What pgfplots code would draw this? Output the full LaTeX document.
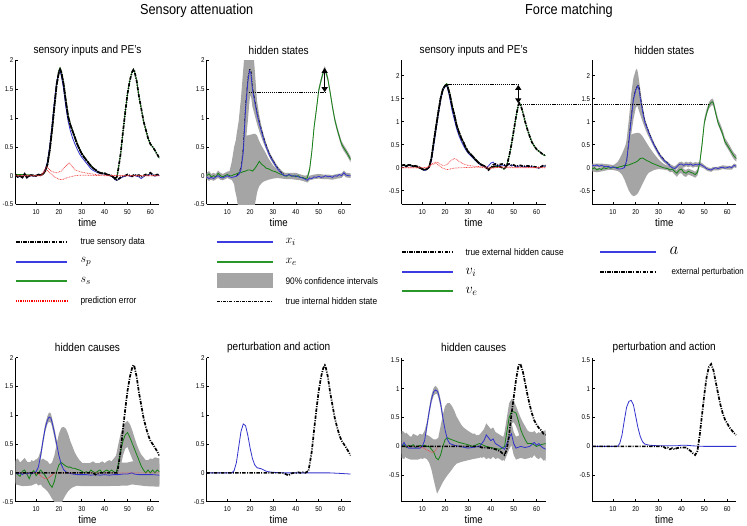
\documentclass[border=0pt]{standalone}
\usepackage{fontspec}
\setmainfont{Liberation Sans}[FakeStretch=0.88]
\usepackage{pgfplots}
\pgfplotsset{compat=1.18}
\usetikzlibrary{arrows.meta}
\definecolor{mblue}{RGB}{50,50,205}
\definecolor{mgreen}{RGB}{20,130,20}
\definecolor{mred}{RGB}{240,60,60}
\definecolor{mgray}{RGB}{165,165,165}
\definecolor{lblue}{RGB}{60,60,225}
\definecolor{lgreen}{RGB}{40,150,40}
\tikzset{
 truedd/.style={black, line width=1.7bp, dash pattern=on 3.5bp off 1.3bp on 1bp off 1.3bp},
 truedd2/.style={black, line width=1.7bp, dash pattern=on 3.5bp off 1.3bp on 1bp off 1.3bp, dash phase=3bp},
 thindd/.style={black, line width=0.5bp, dash pattern=on 3bp off 1.2bp on 0.8bp off 1.2bp},
 blu/.style={mblue, line width=0.8bp},
 grn/.style={mgreen, line width=0.8bp},
 pe/.style={mred, line width=0.7bp, dash pattern=on 0.8bp off 0.8bp},
 band/.style={fill=mgray, draw=none},
 dotl/.style={black, line width=1bp, dash pattern=on 1.2bp off 0.9bp},
 arr/.style={line width=1.4bp, {Triangle[length=5bp,width=6bp]}-{Triangle[length=5bp,width=6bp]}},
 legb/.style={draw=lblue, line width=1.3bp},
 legg/.style={draw=lgreen, line width=1.3bp},
}
\pgfplotsset{
 panel/.style={
  scale only axis, width=144bp, height=144bp,
  xmin=1, xmax=64, no markers,
  axis x line*=bottom, axis y line*=left,
  axis line style={line width=0.7bp, black},
  xtick={10,20,...,60},
  tick align=inside, major tick length=2.5bp,
  tick style={line width=0.6bp, black},
  ticklabel style={font=\fontsize{7}{8}\selectfont},
  /pgf/number format/assume math mode=true,
  xticklabel style={yshift=-1.5bp},
  yticklabel style={xshift=-0.5bp, inner sep=1.5bp},
  xlabel={time},
  xlabel style={font=\fontsize{11}{12}\selectfont, at={(axis description cs:0.5,0)}, anchor=center, yshift=-18bp},
  title style={font=\fontsize{11.5}{13}\selectfont, at={(axis description cs:0.5,1)}, anchor=center, yshift=4bp},
 },
 rowA/.style={panel, ymin=-0.5, ymax=2, ytick={-0.5,0,0.5,1,1.5,2}},
 rowC/.style={panel, ymin=-0.8, ymax=2.33, ytick={-0.5,0,0.5,1,1.5,2}},
 rowG/.style={panel, ymin=-0.96, ymax=1.54, ytick={-0.5,0,0.5,1,1.5}},
}
\begin{document}
\begin{tikzpicture}[x=1bp,y=1bp]
\useasboundingbox (0,0) rectangle (747,526);

% ================= legends (sample lines first)
\draw[black, line width=1.1bp, dash pattern=on 3.5bp off 1.3bp on 1bp off 1.3bp] (16,284) -- (67,284);
\draw[legb] (16,264) -- (67,264);
\draw[legg] (16,245) -- (67,245);
\draw[draw=red, line width=1.1bp, dash pattern=on 1.1bp off 1.1bp] (16,225) -- (67,225);
\draw[legb] (217,284) -- (272.5,284);
\draw[legg] (217,264) -- (272.5,264);
\fill[mgray] (217,237.5) rectangle (272.5,252.5);
\draw[black, line width=0.6bp, dash pattern=on 3bp off 1.2bp on 0.8bp off 1.2bp] (217,225) -- (272.5,225);
\draw[black, line width=1.1bp, dash pattern=on 3.5bp off 1.3bp on 1bp off 1.3bp] (402,274) -- (453,274);
\draw[legb] (402,254) -- (453,254);
\draw[legg] (402,235) -- (453,235);
\draw[legb] (600,274) -- (656,274);
\draw[black, line width=1.1bp, dash pattern=on 3.5bp off 1.3bp on 1bp off 1.3bp] (600,254) -- (656,254);
\begin{scope}[font=\fontsize{9.5}{11}\selectfont]
\node[anchor=west] at (77,284) {true sensory data};
\node[anchor=west] at (77,264) {\fontsize{13}{14}\selectfont$s_p$};
\node[anchor=west] at (77,245) {\fontsize{13}{14}\selectfont$s_s$};
\node[anchor=west] at (77,225) {prediction error};
\node[anchor=west] at (282,284) {\fontsize{13}{14}\selectfont$x_i$};
\node[anchor=west] at (282,264) {\fontsize{13}{14}\selectfont$x_e$};
\node[anchor=west] at (282,245) {90\% confidence intervals};
\node[anchor=west] at (282,225) {true internal hidden state};
\node[anchor=west] at (462,274) {true external hidden cause};
\node[anchor=west] at (462,254) {\fontsize{14}{15}\selectfont$v_i$};
\node[anchor=west] at (462,235) {\fontsize{14}{15}\selectfont$v_e$};
\node[anchor=west] at (666,275) {\fontsize{18}{19}\selectfont$a$};
\node[anchor=west, font=\fontsize{9}{10}\selectfont] at (668,254) {external perturbation};
\end{scope}

\node[font=\fontsize{14.5}{16}\selectfont] at (196.7,515) {Sensory attenuation};
\node[font=\fontsize{14.5}{16}\selectfont] at (569,515) {Force matching};

% ================= A: SA sensory inputs
\begin{axis}[rowA, at={(15.5bp,321.5bp)}, anchor=south west, title={sensory inputs and PE's}]
\addplot[grn] coordinates {(1,0.02)(5,0.02)(10,0.0)(12,0.01)(13,0.03)(14,0.08)(15,0.2)(16,0.46)(17,0.82)(18,1.22)(19,1.6)(20,1.83)(20.5,1.87)(21,1.82)(22,1.62)(23,1.32)(24,1.05)(25,0.9)(26,0.78)(27,0.67)(28,0.56)(29,0.47)(30,0.39)(31,0.33)(32,0.28)(33,0.22)(34,0.17)(35,0.13)(36,0.1)(37,0.07)(38,0.05)(40,0.04)(42,0.01)(44,-0.03)(45,-0.05)(45.5,0.0)(46,0.12)(47,0.38)(48,0.75)(49,1.1)(50,1.42)(51,1.65)(52,1.8)(52.6,1.85)(53,1.82)(54,1.65)(55,1.38)(56,1.17)(57,0.95)(58,0.8)(59,0.65)(60,0.55)(61,0.5)(62,0.44)(63,0.37)(64,0.3)};
\addplot[blu] coordinates {(1,0.0)(2,-0.03)(3,-0.01)(4,-0.04)(5,0.02)(6,-0.04)(7,-0.01)(8,0.0)(9,-0.01)(10,-0.01)(11,0.01)(12,0.0)(13,0.03)(14,0.1)(15,0.25)(16,0.52)(17,0.88)(18,1.28)(19,1.62)(20,1.8)(20.4,1.82)(21,1.75)(22,1.52)(23,1.2)(24,0.95)(25,0.78)(26,0.65)(27,0.55)(28,0.46)(29,0.38)(30,0.32)(31,0.27)(32,0.22)(33,0.17)(34,0.12)(35,0.09)(36,0.07)(37,0.05)(38,0.04)(39,0.03)(40,0.03)(41,0.01)(42,0.0)(43,-0.01)(44,-0.04)(45,-0.08)(46,-0.07)(47,-0.04)(48,-0.02)(49,-0.01)(50,0.01)(51,-0.01)(52,-0.02)(53,0.01)(54,-0.01)(55,-0.02)(56,-0.05)(57,-0.02)(58,0.01)(59,0.0)(60,0.04)(61,0.01)(62,-0.01)(63,0.01)(64,0.0)};
\addplot[truedd] coordinates {(1,0.02)(2,-0.02)(3,0.0)(4,-0.03)(5,0.03)(6,-0.03)(7,0.0)(8,0.01)(9,0.0)(10,0.0)(11,0.02)(12,0.01)(13,0.03)(14,0.08)(15,0.2)(16,0.45)(17,0.8)(18,1.2)(19,1.58)(20,1.8)(20.5,1.85)(21,1.8)(22,1.6)(23,1.3)(24,1.03)(25,0.88)(26,0.77)(27,0.66)(28,0.55)(29,0.46)(30,0.38)(31,0.32)(32,0.27)(33,0.22)(34,0.17)(35,0.13)(36,0.1)(37,0.07)(38,0.05)(39,0.04)(40,0.04)(41,0.02)(42,0.01)(43,0.0)(44,-0.03)(45,-0.08)(46,-0.06)(47,-0.03)(48,-0.01)(49,0.0)(50,0.02)(51,0.0)(52,-0.01)(53,0.02)(54,0.0)(55,0.01)(56,-0.02)(57,0.0)(58,0.02)(59,0.01)(60,0.05)(61,0.02)(62,0.0)(63,0.02)(64,0.01)};
\addplot[truedd2] coordinates {(1,0.02)(2,-0.02)(3,0.0)(4,-0.03)(5,0.03)(6,-0.03)(7,0.0)(8,0.01)(9,0.0)(10,0.0)(11,0.02)(12,0.01)(13,0.03)(14,0.08)(15,0.2)(16,0.45)(17,0.8)(18,1.2)(19,1.58)(20,1.8)(20.5,1.85)(21,1.8)(22,1.6)(23,1.3)(24,1.03)(25,0.88)(26,0.77)(27,0.66)(28,0.55)(29,0.46)(30,0.38)(31,0.32)(32,0.27)(33,0.22)(34,0.17)(35,0.13)(36,0.1)(37,0.07)(38,0.05)(39,0.04)(40,0.04)(41,0.02)(42,0.01)(43,0.0)(44,-0.03)(45,-0.05)(45.5,0.0)(46,0.12)(47,0.38)(48,0.75)(49,1.1)(50,1.42)(51,1.65)(52,1.8)(52.6,1.84)(53,1.82)(54,1.65)(55,1.38)(56,1.17)(57,0.95)(58,0.8)(59,0.65)(60,0.55)(61,0.5)(62,0.44)(63,0.37)(64,0.3)};
\addplot[pe] coordinates {(1,0)(12,0.0)(13,0.05)(14,0.13)(14.7,0.16)(15.5,0.12)(17,0.07)(19,0.05)(21,0.08)(23,0.17)(24.5,0.22)(25.5,0.18)(27,0.1)(30,0.06)(33,0.04)(36,0.02)(40,0.01)(45,0.0)(64,0.0)};
\addplot[pe] coordinates {(1,0)(12,0.0)(13,0.03)(14,0.08)(15,0.09)(16,0.05)(18,-0.02)(20,-0.06)(21,-0.07)(22,-0.06)(24,-0.03)(27,0.0)(30,0.01)(40,0.0)(64,0.0)};
\end{axis}

% ================= B: SA hidden states
\begin{axis}[rowA, at={(206.7bp,321.5bp)}, anchor=south west, title={hidden states}]
\addplot[band] coordinates {(1,0.05)(2,0.08)(3,0.03)(4,0.05)(5,0.03)(6,0.09)(7,0.05)(8,0.03)(9,0.05)(10,0.07)(11,0.08)(12,0.25)(13,0.5)(14,0.65)(15,0.7)(17,0.7)(19,0.7)(21,0.72)(22,0.73)(23,0.7)(24,0.6)(25,0.52)(26,0.45)(27,0.38)(28,0.3)(30,0.18)(32,0.1)(34,0.06)(36,0.04)(38,0.04)(40,0.03)(42,0.02)(44,0.0)(45,0.01)(46,0.15)(47,0.47)(48,0.9)(49,1.2)(50,1.53)(51,1.7)(52,1.85)(52.6,1.9)(53,1.87)(54,1.73)(55,1.5)(56,1.25)(57,1.03)(58,0.87)(59,0.73)(60,0.6)(61,0.53)(62,0.47)(63,0.4)(64,0.33)
(64,0.23)(63,0.3)(62,0.37)(61,0.43)(60,0.5)(59,0.63)(58,0.77)(57,0.93)(56,1.15)(55,1.4)(54,1.63)(53,1.77)(52.6,1.8)(52,1.75)(51,1.6)(50,1.43)(49,1.1)(48,0.8)(47,0.37)(46,0.05)(45,-0.09)(44,-0.1)(42,-0.08)(40,-0.07)(38,-0.06)(36,-0.06)(34,-0.05)(32,-0.04)(30,-0.05)(28,-0.07)(26,-0.1)(25,-0.13)(24,-0.18)(23.4,-0.24)(23,-0.3)(22.1,-0.5)(21,-0.7)(20,-0.75)(16,-0.75)(15,-0.6)(14.6,-0.5)(14,-0.36)(13.3,-0.24)(13,-0.15)(12,-0.07)(11,-0.05)(10,-0.03)(9,-0.05)(8,-0.07)(7,-0.05)(6,-0.01)(5,-0.07)(4,-0.05)(3,-0.07)(2,-0.02)(1,-0.05)};
\addplot[band] coordinates {(1,0.02)(2,-0.01)(3,0.01)(4,-0.01)(5,0.02)(6,0.04)(7,0.01)(8,0.0)(9,0.02)(10,0.04)(11,0.02)(12,0.01)(13,0.3)(14,0.7)(15,0.95)(16,1.35)(17,1.85)(17.5,2.1)(18,2.3)(20,2.4)(21.5,2.1)(22,1.85)(23,1.3)(24,1.05)(25,0.85)(26,0.7)(27,0.57)(28,0.46)(29,0.37)(30,0.3)(31,0.23)(32,0.17)(33,0.12)(34,0.08)(35,0.05)(36,0.05)(38,0.05)(40,0.05)(42,0.02)(44,-0.01)(45,-0.04)(46,0.0)(48,0.02)(50,0.03)(52,0.02)(54,0.02)(56,0.01)(58,0.03)(60,0.04)(61,0.09)(62,0.05)(64,0.04)
(64,-0.04)(62,-0.03)(61,0.01)(60,-0.04)(58,-0.05)(56,-0.07)(54,-0.06)(52,-0.06)(50,-0.05)(48,-0.06)(46,-0.08)(45,-0.12)(44,-0.1)(42,-0.07)(40,-0.04)(38,-0.04)(36,-0.04)(35,-0.04)(34,0.0)(33,0.04)(32,0.09)(31,0.15)(30,0.21)(29,0.28)(28,0.36)(27,0.46)(26,0.55)(25,0.66)(24,0.77)(23,0.9)(22,1.05)(21,1.2)(20.5,1.35)(20,1.4)(19.5,1.2)(19,0.95)(18,0.55)(17,0.3)(16,0.1)(15,0.05)(14,0.0)(13,-0.05)(12,-0.07)(11,-0.06)(10,-0.04)(9,-0.06)(8,-0.08)(7,-0.07)(6,-0.04)(5,-0.06)(4,-0.09)(3,-0.07)(2,-0.09)(1,-0.06)};
\addplot[grn] coordinates {(1,0.0)(2,0.03)(3,-0.02)(4,0.0)(5,-0.02)(6,0.04)(7,0.0)(8,-0.02)(9,0.0)(10,0.02)(11,0.0)(12,0.0)(13,0.02)(14,0.03)(15,0.05)(16,0.05)(17,0.07)(18,0.08)(19,0.1)(20,0.1)(21,0.08)(22,0.12)(23,0.18)(24,0.25)(25,0.2)(26,0.17)(27,0.13)(28,0.12)(29,0.1)(30,0.08)(31,0.07)(32,0.05)(33,0.03)(34,0.02)(35,0.0)(36,-0.01)(37,0.02)(38,-0.01)(39,0.0)(40,-0.02)(41,0.0)(42,-0.03)(43,-0.03)(44,-0.05)(45,-0.04)(46,0.1)(47,0.42)(48,0.85)(49,1.15)(50,1.48)(51,1.65)(52,1.8)(52.6,1.85)(53,1.82)(54,1.68)(55,1.45)(56,1.2)(57,0.98)(58,0.82)(59,0.68)(60,0.55)(61,0.48)(62,0.42)(63,0.35)(64,0.28)};
\addplot[thindd] coordinates {(14,0.0)(15,0.04)(16,0.15)(17,0.5)(18,1.25)(19,1.7)(19.8,1.86)(20.5,1.8)(21,1.55)(22,1.33)(23,1.12)(24,0.95)(25,0.8)(26,0.66)(27,0.54)(28,0.43)(29,0.34)(30,0.27)(31,0.2)(32,0.14)(33,0.09)(34,0.05)(35,0.02)};
\addplot[blu] coordinates {(1,-0.02)(2,-0.05)(3,-0.03)(4,-0.05)(5,-0.02)(6,0.0)(7,-0.03)(8,-0.04)(9,-0.02)(10,0.0)(11,-0.02)(12,-0.03)(13,-0.02)(14,-0.01)(15,0.02)(16,0.1)(17,0.4)(18,1.15)(19,1.62)(19.7,1.82)(20.3,1.78)(21,1.5)(22,1.28)(23,1.07)(24,0.9)(25,0.76)(26,0.62)(27,0.5)(28,0.4)(29,0.31)(30,0.25)(31,0.18)(32,0.12)(33,0.07)(34,0.03)(35,0.0)(36,0.0)(37,0.02)(38,0.0)(39,-0.01)(40,0.0)(41,-0.02)(42,-0.03)(43,-0.04)(44,-0.06)(45,-0.08)(46,-0.04)(47,-0.05)(48,-0.02)(49,-0.03)(50,-0.01)(51,-0.03)(52,-0.02)(53,0.0)(54,-0.02)(55,-0.01)(56,-0.03)(57,0.0)(58,-0.01)(59,0.02)(60,0.0)(61,0.05)(62,0.01)(63,0.0)(64,0.0)};
\addplot[dotl] coordinates {(19.5,1.45)(52.6,1.45)};
\addplot[arr] coordinates {(52.6,1.45)(52.6,1.87)};
\end{axis}

% ================= C: FM sensory inputs
\begin{axis}[rowC, at={(401.7bp,321.5bp)}, anchor=south west, title={sensory inputs and PE's}]
\addplot[grn] coordinates {(1,0.05)(5,0.05)(10,-0.03)(11,-0.05)(12,-0.03)(13,0.02)(14,0.2)(15,0.55)(16,0.88)(17,1.2)(18,1.5)(19,1.72)(20,1.8)(20.7,1.83)(21,1.8)(22,1.62)(23,1.36)(24,1.15)(25,0.93)(26,0.78)(27,0.65)(28,0.55)(29,0.44)(30,0.35)(32,0.25)(34,0.14)(36,0.06)(38,0.0)(39,-0.03)(40,0.0)(42,0.03)(44,0.02)(45,0.0)(46,-0.03)(47,0.05)(48,0.25)(49,0.5)(50,0.8)(51,1.1)(52,1.36)(52.5,1.41)(53,1.37)(54,1.2)(55,1.0)(56,0.83)(57,0.68)(58,0.55)(59,0.47)(60,0.4)(61,0.36)(62,0.32)(63,0.28)(64,0.26)};
\addplot[blu] coordinates {(1,0.04)(2,0.05)(3,0.02)(4,0.05)(5,0.04)(6,0.02)(7,0.03)(8,0.01)(9,-0.01)(10,-0.04)(11,-0.06)(12,-0.04)(13,0.0)(14,0.15)(15,0.48)(16,0.82)(17,1.15)(18,1.46)(19,1.68)(20,1.77)(20.5,1.78)(21,1.74)(22,1.52)(23,1.25)(24,1.05)(25,0.85)(26,0.7)(27,0.58)(28,0.48)(29,0.39)(30,0.32)(31,0.27)(32,0.22)(33,0.17)(34,0.12)(35,0.08)(36,0.05)(37,0.03)(38,0.0)(39,0.04)(40,0.1)(41,0.12)(42,0.06)(43,0.04)(44,0.05)(45,0.06)(46,0.04)(47,0.05)(48,0.07)(49,0.04)(50,0.05)(51,0.02)(52,0.03)(53,0.04)(54,0.02)(55,0.02)(56,0.03)(57,0.02)(58,0.02)(59,0.01)(60,0.0)(61,-0.01)(62,0.01)(63,0.04)(64,0.03)};
\addplot[truedd] coordinates {(1,0.05)(2,0.06)(3,0.03)(4,0.06)(5,0.05)(6,0.03)(7,0.04)(8,0.02)(9,0.0)(10,-0.03)(11,-0.05)(12,-0.03)(13,0.02)(14,0.2)(15,0.55)(16,0.88)(17,1.2)(18,1.5)(19,1.7)(20,1.78)(20.7,1.8)(21,1.78)(22,1.6)(23,1.35)(24,1.15)(25,0.93)(26,0.78)(27,0.65)(28,0.55)(29,0.44)(30,0.35)(31,0.3)(32,0.25)(33,0.19)(34,0.14)(35,0.09)(36,0.06)(37,0.04)(38,0.0)(39,-0.05)(40,0.0)(41,0.06)(42,0.08)(43,0.06)(44,0.07)(45,0.08)(46,0.06)(47,0.06)(48,0.08)(49,0.05)(50,0.06)(51,0.03)(52,0.04)(53,0.05)(54,0.03)(55,0.03)(56,0.04)(57,0.03)(58,0.03)(59,0.02)(60,0.01)(61,0.0)(62,0.02)(63,0.05)(64,0.04)};
\addplot[truedd2] coordinates {(1,0.05)(2,0.06)(3,0.03)(4,0.06)(5,0.05)(6,0.03)(7,0.04)(8,0.02)(9,0.0)(10,-0.03)(11,-0.05)(12,-0.03)(13,0.02)(14,0.2)(15,0.55)(16,0.88)(17,1.2)(18,1.5)(19,1.7)(20,1.78)(20.7,1.8)(21,1.78)(22,1.6)(23,1.35)(24,1.15)(25,0.93)(26,0.78)(27,0.65)(28,0.55)(29,0.44)(30,0.35)(31,0.3)(32,0.25)(33,0.19)(34,0.14)(35,0.09)(36,0.06)(37,0.04)(38,0.0)(39,-0.03)(40,0.0)(41,0.02)(42,0.03)(43,0.02)(44,0.02)(45,0.0)(46,-0.03)(47,0.05)(48,0.25)(49,0.5)(50,0.8)(51,1.1)(52,1.36)(52.5,1.4)(53,1.37)(54,1.2)(55,1.0)(56,0.83)(57,0.68)(58,0.55)(59,0.47)(60,0.4)(61,0.36)(62,0.32)(63,0.28)(64,0.26)};
\addplot[pe] coordinates {(1,0)(12,0)(13,0.03)(14,0.08)(15,0.1)(16,0.12)(17,0.11)(18,0.07)(19,0.05)(20,0.05)(21,0.08)(22,0.13)(23,0.17)(24,0.2)(25,0.18)(26,0.14)(28,0.08)(30,0.05)(33,0.03)(36,0.02)(40,0.01)(45,0.0)(64,0.0)};
\addplot[pe] coordinates {(1,0)(12,0)(13,0.02)(14,0.06)(15,0.08)(16,0.09)(17,0.06)(18,0.02)(19,-0.01)(20,-0.03)(21,-0.04)(22,-0.03)(24,-0.01)(27,0.0)(35,0.01)(40,-0.02)(44,0.02)(50,0.01)(64,0.0)};
\addplot[dotl] coordinates {(20.5,1.8)(52,1.8)};
\addplot[arr] coordinates {(52,1.8)(52,1.4)};
\end{axis}

% ================= D: FM hidden states
\begin{axis}[rowC, at={(592.3bp,321.5bp)}, anchor=south west, title={hidden states}, clip=false]
\addplot[band] coordinates {(1,0.02)(3,0.0)(5,0.01)(8,0.04)(10,0.05)(11,0.08)(12,0.12)(13,0.2)(14,0.3)(15,0.42)(16,0.55)(17,0.65)(18,0.72)(19,0.74)(20,0.75)(21,0.76)(22,0.74)(23,0.68)(24,0.6)(25,0.52)(26,0.44)(27,0.37)(28,0.3)(29,0.24)(30,0.18)(31,0.13)(32,0.09)(33,0.06)(34,0.04)(35,0.02)(36,0.03)(37,-0.02)(38,-0.05)(39,0.03)(40,0.05)(41,-0.03)(42,-0.05)(43,-0.02)(44,-0.04)(45,-0.06)(46,-0.09)(47,-0.03)(48,0.17)(49,0.57)(50,1.07)(51,1.27)(52,1.42)(53,1.49)(53.6,1.5)(54,1.47)(55,1.27)(56,1.07)(57,0.95)(58,0.82)(59,0.65)(60,0.57)(61,0.49)(62,0.4)(63,0.32)(64,0.27)
(64,0.13)(63,0.18)(62,0.26)(61,0.35)(60,0.43)(59,0.51)(58,0.68)(57,0.81)(56,0.93)(55,1.13)(54,1.33)(53.6,1.36)(53,1.35)(52,1.28)(51,1.13)(50,0.93)(49,0.43)(48,0.03)(47,-0.17)(46,-0.22)(45,-0.19)(44,-0.17)(43,-0.15)(42,-0.2)(41,-0.18)(40,-0.12)(39,-0.13)(38,-0.2)(37,-0.15)(36,-0.09)(35,-0.1)(34,-0.06)(32,-0.04)(30,-0.03)(28,-0.05)(26,-0.1)(25,-0.15)(24,-0.25)(23,-0.35)(22,-0.45)(21,-0.55)(20,-0.6)(19,-0.62)(18,-0.58)(17,-0.5)(16,-0.38)(15,-0.25)(14,-0.15)(13,-0.1)(12,-0.07)(11,-0.06)(10,-0.05)(8,-0.05)(5,-0.08)(3,-0.1)(1,-0.08)};
\addplot[band] coordinates {(1,0.09)(5,0.09)(10,0.06)(12,0.02)(13,0.05)(14,0.15)(15,0.3)(16,0.6)(17,1.05)(17.5,1.3)(18,1.6)(19,1.95)(20,2.12)(20.5,2.15)(21,2.05)(22,1.7)(23,1.35)(24,1.07)(25,0.92)(26,0.78)(27,0.66)(28,0.55)(29,0.45)(30,0.36)(31,0.28)(32,0.22)(33,0.16)(34,0.13)(35,0.08)(36,0.05)(37,0.03)(38,0.07)(39,0.12)(40,0.13)(41,0.1)(42,0.13)(43,0.11)(44,0.13)(45,0.1)(46,0.12)(47,0.11)(48,0.13)(49,0.1)(50,0.06)(51,0.02)(52,0.0)(53,-0.01)(54,0.02)(56,0.02)(58,0.05)(60,0.04)(62,0.04)(63,0.09)(64,0.07)
(64,-0.01)(63,0.01)(62,-0.04)(60,-0.04)(58,-0.03)(56,-0.06)(54,-0.06)(53,-0.09)(52,-0.08)(51,-0.06)(50,-0.02)(49,0.0)(48,0.03)(47,0.01)(46,0.02)(45,0.0)(44,0.03)(43,0.01)(42,0.03)(41,0.0)(40,0.03)(39,0.02)(38,-0.02)(37,-0.06)(36,-0.04)(35,-0.02)(34,0.04)(33,0.09)(32,0.13)(31,0.19)(30,0.26)(29,0.35)(28,0.44)(27,0.54)(26,0.64)(25,0.74)(24,0.86)(23,1.0)(22,1.15)(21,1.3)(20.7,1.35)(20,1.3)(19,1.05)(18,0.72)(17,0.35)(16,0.1)(15,-0.02)(14,-0.05)(13,-0.07)(12,-0.06)(10,-0.02)(5,0.01)(1,0.01)};
\addplot[grn] coordinates {(1,-0.03)(2,0.0)(3,-0.05)(4,-0.02)(5,-0.04)(6,0.0)(7,-0.02)(8,0.0)(9,-0.01)(10,0.0)(11,0.01)(12,0.0)(13,0.02)(14,0.03)(15,0.05)(16,0.05)(17,0.06)(18,0.08)(19,0.1)(20,0.12)(21,0.15)(22,0.2)(23,0.21)(24,0.18)(25,0.15)(26,0.13)(27,0.1)(28,0.08)(29,0.06)(30,0.04)(31,0.02)(32,0.0)(33,-0.01)(34,-0.02)(35,-0.05)(36,-0.03)(37,-0.08)(38,-0.12)(39,-0.05)(40,-0.03)(41,-0.1)(42,-0.12)(43,-0.08)(44,-0.1)(45,-0.12)(46,-0.15)(47,-0.1)(48,0.1)(49,0.5)(50,0.97)(51,1.18)(52,1.35)(53,1.42)(53.6,1.43)(54,1.4)(55,1.18)(56,0.98)(57,0.86)(58,0.73)(59,0.57)(60,0.49)(61,0.41)(62,0.33)(63,0.25)(64,0.2)};
\addplot[thindd] coordinates {(15,0.0)(16,0.12)(17,0.6)(18,1.1)(19,1.52)(20,1.72)(21,1.8)(21.7,1.72)(22,1.55)(23,1.27)(24,1.02)(25,0.88)(26,0.75)(27,0.62)(28,0.51)(29,0.42)(30,0.33)(31,0.26)(32,0.2)(33,0.14)(34,0.1)(35,0.05)};
\addplot[blu] coordinates {(1,0.05)(2,0.04)(3,0.06)(4,0.03)(5,0.05)(6,0.03)(7,0.02)(8,0.03)(9,0.0)(10,0.02)(11,0.0)(12,-0.02)(13,-0.03)(14,-0.02)(15,0.0)(16,0.15)(17,0.55)(18,1.05)(19,1.48)(20,1.68)(20.9,1.78)(21.5,1.68)(22,1.5)(23,1.22)(24,0.98)(25,0.85)(26,0.72)(27,0.6)(28,0.49)(29,0.4)(30,0.31)(31,0.24)(32,0.18)(33,0.13)(34,0.09)(35,0.03)(36,0.0)(37,-0.02)(38,0.02)(39,0.07)(40,0.08)(41,0.05)(42,0.08)(43,0.06)(44,0.08)(45,0.05)(46,0.07)(47,0.06)(48,0.08)(49,0.05)(50,0.02)(51,-0.02)(52,-0.04)(53,-0.05)(54,-0.02)(55,0.0)(56,-0.02)(57,0.0)(58,0.01)(59,-0.01)(60,0.0)(61,0.02)(62,0.0)(63,0.05)(64,0.03)};
\addplot[dotl] coordinates {(-31.2,1.38)(52.4,1.38)};
\end{axis}

% ================= E: SA hidden causes
\begin{axis}[rowA, at={(15.5bp,24.3bp)}, anchor=south west, title={hidden causes}]
\addplot[band] coordinates {(1,0.22)(2,0.25)(3,0.18)(4,0.22)(5,0.26)(6,0.2)(7,0.15)(8,0.22)(9,0.2)(10,0.24)(11,0.2)(12,0.22)(13,0.25)(14,0.22)(15,0.2)(16,0.15)(17,0.18)(18,0.3)(19,0.5)(20,0.68)(21,0.78)(22,0.8)(23,0.77)(24,0.68)(25,0.55)(26,0.45)(27,0.35)(28,0.28)(29,0.22)(30,0.18)(31,0.14)(32,0.12)(33,0.15)(34,0.18)(35,0.2)(36,0.17)(37,0.15)(38,0.18)(39,0.2)(40,0.17)(41,0.2)(42,0.22)(43,0.2)(44,0.25)(45,0.3)(46,0.5)(47,0.68)(48,0.8)(49,0.87)(50,0.9)(51,0.85)(52,0.75)(53,0.62)(54,0.5)(55,0.4)(56,0.32)(57,0.27)(58,0.22)(59,0.22)(60,0.25)(61,0.24)(62,0.27)(63,0.26)(64,0.25)
(64,-0.2)(63,-0.22)(62,-0.18)(61,-0.2)(60,-0.15)(59,-0.17)(58,-0.2)(57,-0.15)(56,-0.12)(55,-0.05)(54,0.05)(53,0.15)(52,0.25)(51,0.35)(50,0.45)(49,0.42)(48,0.3)(47,0.1)(46,-0.08)(45,-0.15)(44,-0.18)(43,-0.2)(42,-0.15)(41,-0.17)(40,-0.2)(39,-0.15)(38,-0.17)(37,-0.2)(36,-0.15)(35,-0.12)(34,-0.15)(33,-0.17)(32,-0.2)(30,-0.22)(28,-0.22)(26,-0.25)(25,-0.28)(24,-0.32)(23,-0.38)(22,-0.45)(21,-0.55)(20,-0.6)(19,-0.55)(18,-0.5)(17,-0.45)(16,-0.38)(15,-0.32)(14,-0.28)(13,-0.25)(12,-0.2)(11,-0.22)(10,-0.18)(9,-0.2)(8,-0.15)(7,-0.22)(6,-0.2)(5,-0.17)(4,-0.22)(3,-0.2)(2,-0.15)(1,-0.17)};
\addplot[band] coordinates {(1,0.2)(4,0.18)(8,0.19)(10,0.22)(11,0.27)(12,0.38)(13,0.62)(14,0.85)(15,0.99)(15.7,1.05)(16.5,1.03)(17,0.95)(18,0.78)(19,0.58)(20,0.45)(21,0.32)(22,0.25)(24,0.2)(30,0.17)(40,0.17)(50,0.18)(52,0.2)(58,0.17)(64,0.16)
(64,-0.24)(58,-0.23)(52,-0.2)(50,-0.22)(40,-0.23)(30,-0.23)(24,-0.2)(22,-0.12)(21,0.0)(20,0.2)(19,0.42)(18,0.62)(17,0.8)(16.5,0.87)(15.7,0.89)(15,0.85)(14,0.71)(13,0.48)(12,0.22)(11,-0.05)(10,-0.18)(8,-0.22)(4,-0.23)(1,-0.2)};
\addplot[grn] coordinates {(1,0.0)(2,-0.03)(3,-0.06)(4,0.03)(5,0.05)(6,-0.02)(7,-0.1)(8,0.0)(9,0.04)(10,-0.05)(11,0.0)(12,0.05)(13,0.0)(14,-0.05)(15,-0.12)(16,-0.2)(17,-0.25)(18,-0.15)(19,0.02)(20,0.14)(21,0.18)(22,0.15)(23,0.12)(24,0.1)(25,0.1)(26,0.08)(27,0.08)(28,0.06)(29,0.05)(30,0.03)(31,0.0)(32,0.02)(33,0.0)(34,0.05)(35,0.02)(36,0.0)(37,0.03)(38,0.05)(39,0.0)(40,0.03)(41,0.05)(42,0.02)(43,0.05)(44,0.02)(45,0.0)(46,0.15)(47,0.38)(48,0.55)(49,0.66)(50,0.7)(51,0.62)(52,0.52)(53,0.42)(54,0.32)(55,0.22)(56,0.12)(57,0.05)(58,0.0)(59,0.05)(60,0.0)(61,0.05)(62,0.0)(63,0.05)(64,0.02)};
\addplot[blu] coordinates {(1,0.0)(2,-0.02)(3,0.0)(4,-0.03)(5,0.0)(6,-0.02)(7,0.0)(8,-0.02)(9,0.0)(10,0.02)(11,0.1)(12,0.3)(13,0.55)(14,0.78)(15,0.92)(15.7,0.97)(16.5,0.95)(17,0.88)(18,0.7)(19,0.5)(20,0.3)(21,0.15)(22,0.06)(23,0.02)(24,0.0)(26,-0.02)(28,-0.03)(30,-0.03)(32,-0.03)(34,-0.04)(36,-0.03)(38,-0.04)(40,-0.03)(42,-0.04)(44,-0.03)(46,-0.03)(48,-0.02)(50,-0.02)(51,-0.01)(52,0.0)(53,-0.02)(55,-0.03)(58,-0.03)(61,-0.03)(64,-0.04)};
\addplot[pe] coordinates {(1,0)(10,0.0)(11,-0.02)(12,-0.05)(13,-0.08)(14,-0.1)(15,-0.1)(16,-0.07)(17,-0.03)(18,0.0)(64,0.0)};
\addplot[truedd] coordinates {(1,0)(35,0.0)(36,-0.03)(37,-0.01)(38,0.0)(44,0.0)(45,0.0)(45.5,0.0)(46,0.12)(47,0.38)(48,0.75)(49,1.1)(50,1.42)(51,1.66)(52,1.82)(52.6,1.87)(53,1.85)(54,1.67)(55,1.4)(56,1.18)(57,0.96)(58,0.8)(59,0.66)(60,0.56)(61,0.5)(62,0.44)(63,0.37)(64,0.3)};
\end{axis}

% ================= F: SA perturbation and action
\begin{axis}[rowA, at={(206.7bp,24.3bp)}, anchor=south west, title={perturbation and action}]
\addplot[blu] coordinates {(1,0)(12,0.0)(13,0.04)(14,0.18)(15,0.45)(16,0.72)(17,0.85)(18,0.82)(19,0.65)(20,0.43)(21,0.25)(22,0.14)(23,0.09)(24,0.08)(25,0.07)(26,0.05)(27,0.03)(28,0.02)(30,0.01)(35,0.0)(40,0.0)(45,0.0)(50,0.0)(55,0.0)(60,-0.01)(64,-0.02)};
\addplot[truedd] coordinates {(1,0)(34,0.0)(35,-0.01)(36,-0.03)(37,-0.04)(38,-0.01)(39,0.0)(40,0.0)(41,0.01)(42,0.0)(43,0.01)(44,0.0)(45,0.02)(45.5,0.03)(46,0.14)(47,0.38)(48,0.75)(49,1.1)(50,1.42)(51,1.66)(52,1.82)(52.7,1.87)(53,1.85)(54,1.67)(55,1.4)(56,1.18)(57,0.96)(58,0.8)(59,0.66)(60,0.56)(61,0.5)(62,0.44)(63,0.37)(64,0.3)};
\end{axis}

% ================= G: FM hidden causes
\begin{axis}[rowG, at={(401.7bp,24.3bp)}, anchor=south west, title={hidden causes}]
\addplot[band] coordinates {(1,0.22)(2,0.2)(3,0.24)(4,0.2)(5,0.15)(6,0.22)(7,0.2)(8,0.18)(9,0.22)(10,0.2)(11,0.22)(12,0.2)(13,0.18)(14,0.15)(15,0.12)(16,0.12)(17,0.15)(18,0.35)(19,0.55)(20,0.7)(21,0.75)(22,0.75)(23,0.7)(24,0.62)(25,0.52)(26,0.45)(27,0.38)(28,0.33)(30,0.27)(32,0.22)(33,0.22)(34,0.18)(35,0.2)(36,0.22)(37,0.2)(38,0.18)(39,0.15)(40,0.18)(41,0.15)(42,0.12)(43,0.1)(44,0.08)(45,0.1)(46,0.25)(47,0.5)(48,0.75)(49,0.82)(50,0.8)(51,0.7)(52,0.6)(53,0.5)(54,0.42)(55,0.35)(56,0.28)(57,0.25)(58,0.25)(59,0.22)(60,0.2)(61,0.22)(62,0.25)(63,0.27)(64,0.28)
(64,-0.2)(63,-0.25)(62,-0.18)(61,-0.22)(60,-0.2)(59,-0.15)(58,-0.2)(57,-0.18)(56,-0.12)(55,-0.08)(54,0.0)(53,0.1)(52,0.25)(51,0.35)(50,0.42)(49,0.4)(48,0.28)(47,0.05)(46,-0.2)(45,-0.25)(44,-0.22)(43,-0.2)(42,-0.22)(41,-0.18)(40,-0.22)(39,-0.2)(38,-0.22)(37,-0.18)(36,-0.2)(35,-0.18)(34,-0.2)(32,-0.22)(29,-0.25)(27,-0.27)(25,-0.3)(24,-0.34)(23,-0.4)(22,-0.45)(21,-0.5)(20,-0.56)(19,-0.62)(18,-0.7)(17,-0.78)(16.5,-0.82)(16,-0.75)(15,-0.58)(14,-0.4)(13,-0.28)(12,-0.22)(11,-0.2)(10,-0.22)(9,-0.18)(8,-0.22)(7,-0.2)(6,-0.18)(5,-0.22)(4,-0.2)(3,-0.17)(2,-0.22)(1,-0.2)};
\addplot[band] coordinates {(1,0.27)(2,0.25)(3,0.18)(5,0.17)(8,0.17)(10,0.2)(11,0.27)(12,0.42)(13,0.67)(14,0.89)(15,1.02)(15.8,1.05)(16.5,1.02)(17,0.99)(18,0.82)(19,0.58)(20,0.4)(21,0.3)(22,0.25)(24,0.22)(30,0.17)(35,0.2)(37,0.3)(38,0.4)(39,0.35)(40,0.3)(41,0.33)(42,0.25)(44,0.2)(46,0.15)(47,0.25)(48,0.35)(49,0.42)(50,0.25)(51,0.17)(53,0.2)(55,0.18)(57,0.2)(59,0.27)(60,0.22)(61,0.25)(62,0.2)(63,0.17)(64,0.15)
(64,-0.25)(63,-0.23)(62,-0.2)(61,-0.15)(60,-0.18)(59,-0.13)(57,-0.2)(55,-0.22)(53,-0.2)(51,-0.23)(50,-0.15)(49,0.02)(48,-0.05)(47,-0.15)(46,-0.25)(44,-0.2)(42,-0.15)(41,-0.07)(40,-0.1)(39,-0.05)(38,0.0)(37,-0.1)(35,-0.2)(30,-0.23)(24,-0.18)(22,-0.1)(21,0.0)(20,0.18)(19,0.42)(18,0.68)(17,0.85)(16.5,0.91)(15.8,0.91)(15,0.88)(14,0.75)(13,0.53)(12,0.28)(11,-0.07)(10,-0.2)(8,-0.23)(5,-0.23)(3,-0.2)(2,-0.13)(1,-0.13)};
\addplot[grn] coordinates {(1,0.0)(2,0.03)(3,-0.02)(4,0.02)(5,0.0)(6,0.03)(7,-0.02)(8,0.0)(9,0.02)(10,0.0)(11,0.02)(12,0.0)(13,0.0)(14,-0.05)(15,-0.1)(16,-0.2)(17,-0.23)(18,-0.15)(19,0.0)(20,0.12)(21,0.15)(22,0.13)(24,0.1)(26,0.07)(28,0.05)(30,0.03)(32,0.0)(35,0.05)(38,0.0)(40,-0.02)(44,-0.05)(46,0.0)(47,0.25)(48,0.5)(49,0.6)(50,0.6)(51,0.58)(52,0.45)(53,0.3)(54,0.2)(55,0.12)(56,0.05)(58,0.05)(60,0.0)(62,0.03)(64,0.05)};
\addplot[blu] coordinates {(1,0.0)(2,0.07)(3,0.0)(4,-0.03)(6,-0.03)(9,-0.03)(10,0.0)(11,0.1)(12,0.35)(13,0.6)(14,0.82)(15,0.95)(15.8,0.98)(16.5,0.96)(17,0.92)(18,0.75)(19,0.5)(20,0.28)(21,0.12)(22,0.05)(24,0.02)(30,-0.03)(35,0.0)(37,0.1)(38,0.2)(39,0.15)(40,0.1)(41,0.13)(42,0.05)(44,0.0)(46,-0.05)(47,0.05)(48,0.15)(49,0.22)(50,0.05)(51,-0.03)(53,0.0)(55,-0.02)(57,0.0)(59,0.07)(60,0.02)(61,0.05)(62,0.0)(63,-0.03)(64,-0.05)};
\addplot[pe] coordinates {(1,0)(8,0.0)(10,-0.02)(12,-0.06)(13,-0.08)(14,-0.1)(15,-0.1)(16,-0.05)(17,0.0)};
\addplot[truedd] coordinates {(1,0)(35,0.0)(36,-0.02)(38,-0.02)(40,-0.03)(42,-0.05)(44,-0.08)(45,-0.12)(46,-0.15)(47,-0.05)(48,0.2)(49,0.55)(50,0.85)(51,1.15)(52,1.38)(52.5,1.43)(53,1.42)(54,1.3)(55,1.1)(56,0.9)(57,0.72)(58,0.57)(59,0.45)(60,0.38)(61,0.32)(62,0.28)(63,0.22)(64,0.2)};
\end{axis}

% ================= H: FM perturbation and action
\begin{axis}[rowG, at={(592.3bp,24.3bp)}, anchor=south west, title={perturbation and action}]
\addplot[blu] coordinates {(1,0)(12,0.0)(13,0.05)(14,0.2)(15,0.45)(16,0.68)(17,0.78)(18,0.8)(19,0.72)(20,0.52)(21,0.32)(22,0.17)(23,0.08)(24,0.04)(26,0.02)(30,0.01)(38,0.01)(40,0.02)(42,0.02)(45,0.01)(50,0.0)(64,0.0)};
\addplot[truedd] coordinates {(1,0)(32,0.0)(33,-0.03)(34,-0.02)(35,-0.05)(36,-0.03)(37,-0.05)(38,-0.03)(40,-0.02)(42,-0.02)(44,-0.08)(45,-0.12)(46,-0.15)(47,-0.08)(48,0.2)(49,0.55)(50,0.9)(51,1.2)(52,1.38)(53,1.43)(54,1.32)(55,1.12)(56,0.92)(57,0.73)(58,0.58)(59,0.47)(60,0.4)(61,0.33)(62,0.28)(63,0.23)(64,0.2)};
\end{axis}
\end{tikzpicture}
\end{document}
